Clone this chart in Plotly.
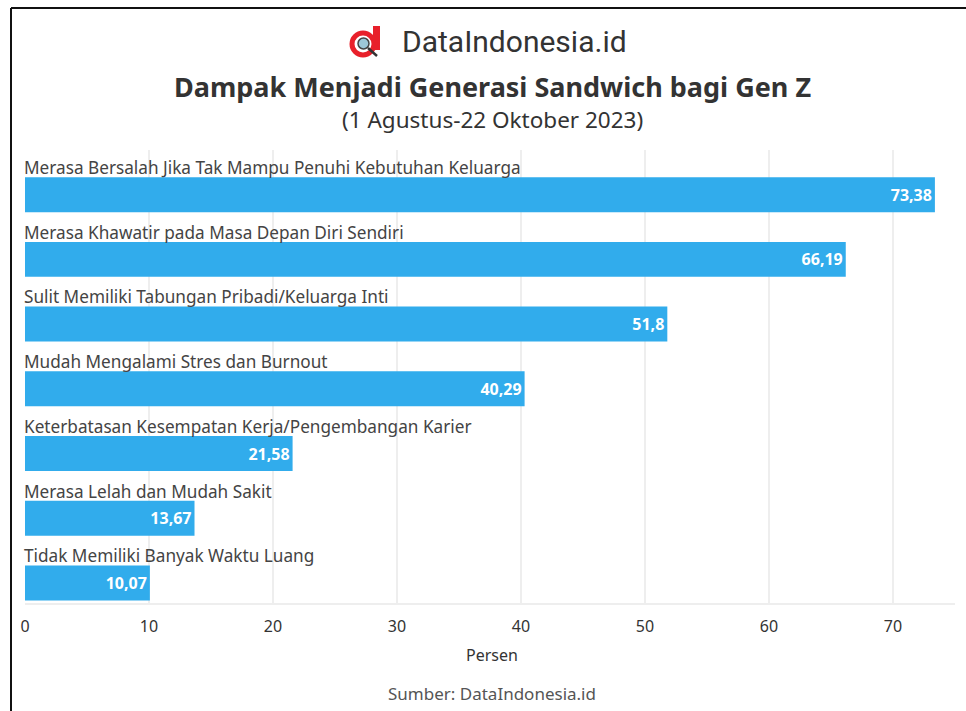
import plotly.graph_objects as go

categories = [
    "Merasa Bersalah Jika Tak Mampu Penuhi Kebutuhan Keluarga",
    "Merasa Khawatir pada Masa Depan Diri Sendiri",
    "Sulit Memiliki Tabungan Pribadi/Keluarga Inti",
    "Mudah Mengalami Stres dan Burnout",
    "Keterbatasan Kesempatan Kerja/Pengembangan Karier",
    "Merasa Lelah dan Mudah Sakit",
    "Tidak Memiliki Banyak Waktu Luang",
]
values = [73.38, 66.19, 51.8, 40.29, 21.58, 13.67, 10.07]
value_labels = ["73,38", "66,19", "51,8", "40,29", "21,58", "13,67", "10,07"]
tick_vals = [0, 10, 20, 30, 40, 50, 60, 70]

W, H = 966, 711
ML, MR, MT, MB = 25, 11, 150, 108
PW, PH = W - ML - MR, H - MT - MB

def px_x(px):
    return (px - ML) / PW

def px_y(py):
    return (H - MB - py) / PH

FONT = "Noto Sans"
pos = list(range(len(categories)))

fig = go.Figure()
fig.add_trace(go.Bar(
    x=values, y=pos, orientation="h",
    marker=dict(color="#31ACEC", line=dict(width=0)),
    width=0.54,
    text=value_labels, textposition="inside", insidetextanchor="end",
    textfont=dict(color="white", size=16, family=FONT + ", sans-serif", weight="bold"),
    cliponaxis=False, hoverinfo="skip",
))

annotations = []
for i, c in enumerate(categories):
    annotations.append(dict(
        x=0, y=i - 0.42, xref="x", yref="y", text=c, showarrow=False,
        xanchor="left", yanchor="middle", xshift=-3,
        font=dict(size=17.2, color="#444444", family=FONT),
    ))

annotations += [
    dict(x=px_x(492), y=px_y(86.5), xref="paper", yref="paper",
         text="<b>Dampak Menjadi Generasi Sandwich bagi Gen Z</b>", showarrow=False,
         xanchor="center", yanchor="middle", font=dict(size=27, color="#333333", family=FONT)),
    dict(x=px_x(492), y=px_y(119), xref="paper", yref="paper",
         text="(1 Agustus-22 Oktober 2023)", showarrow=False,
         xanchor="center", yanchor="middle", font=dict(size=22.5, color="#333333", family=FONT)),
    dict(x=px_x(400), y=px_y(41), xref="paper", yref="paper",
         text="DataIndonesia.id", showarrow=False,
         xanchor="left", yanchor="middle", font=dict(size=30, color="#333333", family="Roboto")),
    dict(x=px_x(492), y=px_y(655), xref="paper", yref="paper",
         text="Persen", showarrow=False,
         xanchor="center", yanchor="middle", font=dict(size=16, color="#333333", family=FONT)),
    dict(x=px_x(492), y=px_y(693), xref="paper", yref="paper",
         text="Sumber: DataIndonesia.id", showarrow=False,
         xanchor="center", yanchor="middle", font=dict(size=17, color="#555555", family=FONT)),
]

shapes = [
    dict(type="line", xref="paper", yref="paper",
         x0=px_x(11), x1=px_x(11), y0=px_y(8), y1=px_y(720),
         line=dict(color="#111111", width=2)),
    dict(type="line", xref="paper", yref="paper",
         x0=px_x(11), x1=px_x(975), y0=px_y(8), y1=px_y(8),
         line=dict(color="#111111", width=2)),
    # logo: red "d" ring + stem, with a small magnifier
    dict(type="circle", xref="paper", yref="paper",
         x0=px_x(352), x1=px_x(374), y0=px_y(55), y1=px_y(33),
         line=dict(color="#E8202A", width=5), fillcolor="rgba(0,0,0,0)"),
    dict(type="rect", xref="paper", yref="paper",
         x0=px_x(373), x1=px_x(380), y0=px_y(50), y1=px_y(26),
         line=dict(width=0), fillcolor="#E8202A"),
    dict(type="circle", xref="paper", yref="paper",
         x0=px_x(358), x1=px_x(369), y0=px_y(49), y1=px_y(38),
         line=dict(color="#444444", width=1.5), fillcolor="#9CC8D8"),
    dict(type="line", xref="paper", yref="paper",
         x0=px_x(368), x1=px_x(377), y0=px_y(48), y1=px_y(56),
         line=dict(color="#333333", width=2.5)),
]

fig.update_layout(
    width=W, height=H,
    margin=dict(l=ML, r=MR, t=MT, b=MB),
    paper_bgcolor="white", plot_bgcolor="white",
    showlegend=False,
    annotations=annotations, shapes=shapes,
    font=dict(family=FONT, color="#333333"),
    xaxis=dict(range=[0, 75], tickvals=tick_vals, ticktext=[str(t) for t in tick_vals],
               showgrid=True, gridcolor="#EEEEEE", gridwidth=2, zeroline=False,
               showline=True, linecolor="#EEEEEE", linewidth=2,
               tickfont=dict(size=16, color="#333333", family=FONT), ticks="", ticklabelstandoff=8,
               fixedrange=True),
    yaxis=dict(range=[6.31, -0.69], showticklabels=False, showgrid=False, zeroline=False,
               fixedrange=True),
)

fig.write_html("out.html")
